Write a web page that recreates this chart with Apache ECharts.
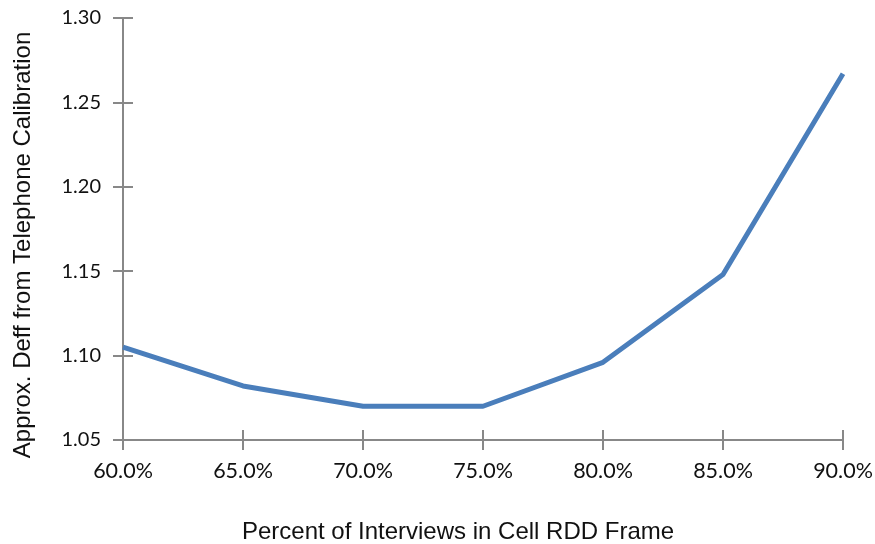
<!DOCTYPE html>
<html>
<head>
<meta charset="utf-8">
<script src="https://cdn.jsdelivr.net/npm/echarts@6/dist/echarts.min.js"></script>
<style>html,body{margin:0;padding:0;background:#fff}#c{width:875px;height:544px}</style>
</head>
<body>
<div id="c"></div>
<script>
const categories = ['60.0%','65.0%','70.0%','75.0%','80.0%','85.0%','90.0%'];
const deffValues = [1.105, 1.082, 1.070, 1.070, 1.096, 1.148, 1.267];
const xTitle = 'Percent of Interviews in Cell RDD Frame';
const yTitle = 'Approx. Deff from Telephone Calibration';

const chart = echarts.init(document.getElementById('c'));
const font = 'Lato, "Open Sans", sans-serif';
const titleFont = '"Liberation Sans", Arial, sans-serif';
const axisCol = '#888888';
chart.setOption({
  animation: false,
  grid: {left: 123, right: 32, top: 18, bottom: 104, outerBoundsMode: 'none', containLabel: false},
  xAxis: [{
    type: 'category', data: categories, boundaryGap: false,
    name: xTitle, nameLocation: 'middle', nameGap: 80,
    nameTextStyle: {fontFamily: titleFont, fontSize: 24, color: '#111', padding: [0, 50, 0, 0]},
    axisLine: {lineStyle: {color: axisCol, width: 2}},
    axisTick: {show: true, length: 10, lineStyle: {color: axisCol, width: 2}},
    axisLabel: {fontFamily: font, fontSize: 21.5, color: '#111', margin: 20},
    splitLine: {show: false}
  }, {
    type: 'category', data: categories, boundaryGap: false, position: 'bottom',
    axisLine: {show: false},
    axisTick: {show: true, inside: true, length: 10, lineStyle: {color: axisCol, width: 2}},
    axisLabel: {show: false}, splitLine: {show: false}
  }],
  yAxis: [{
    type: 'value', min: 1.05, max: 1.30, interval: 0.05,
    name: yTitle, nameLocation: 'middle', nameGap: 88,
    nameTextStyle: {fontFamily: titleFont, fontSize: 24, color: '#111', padding: [0, 32, 0, 0]},
    axisLine: {show: true, lineStyle: {color: axisCol, width: 2}},
    axisTick: {show: true, length: 10, lineStyle: {color: axisCol, width: 2}},
    axisLabel: {fontFamily: font, fontSize: 20, color: '#111', margin: 22, formatter: v => v.toFixed(2)},
    splitLine: {show: false}
  }, {
    type: 'value', min: 1.05, max: 1.30, interval: 0.05, position: 'left',
    axisLine: {show: false},
    axisTick: {show: true, inside: true, length: 10, lineStyle: {color: axisCol, width: 2}},
    axisLabel: {show: false}, splitLine: {show: false}
  }],
  series: [{
    type: 'line', data: deffValues, xAxisIndex: 0, yAxisIndex: 0,
    showSymbol: false, symbol: 'none',
    lineStyle: {color: '#4a7ebb', width: 5, join: 'round', cap: 'butt'}
  }]
});
</script>
</body>
</html>
